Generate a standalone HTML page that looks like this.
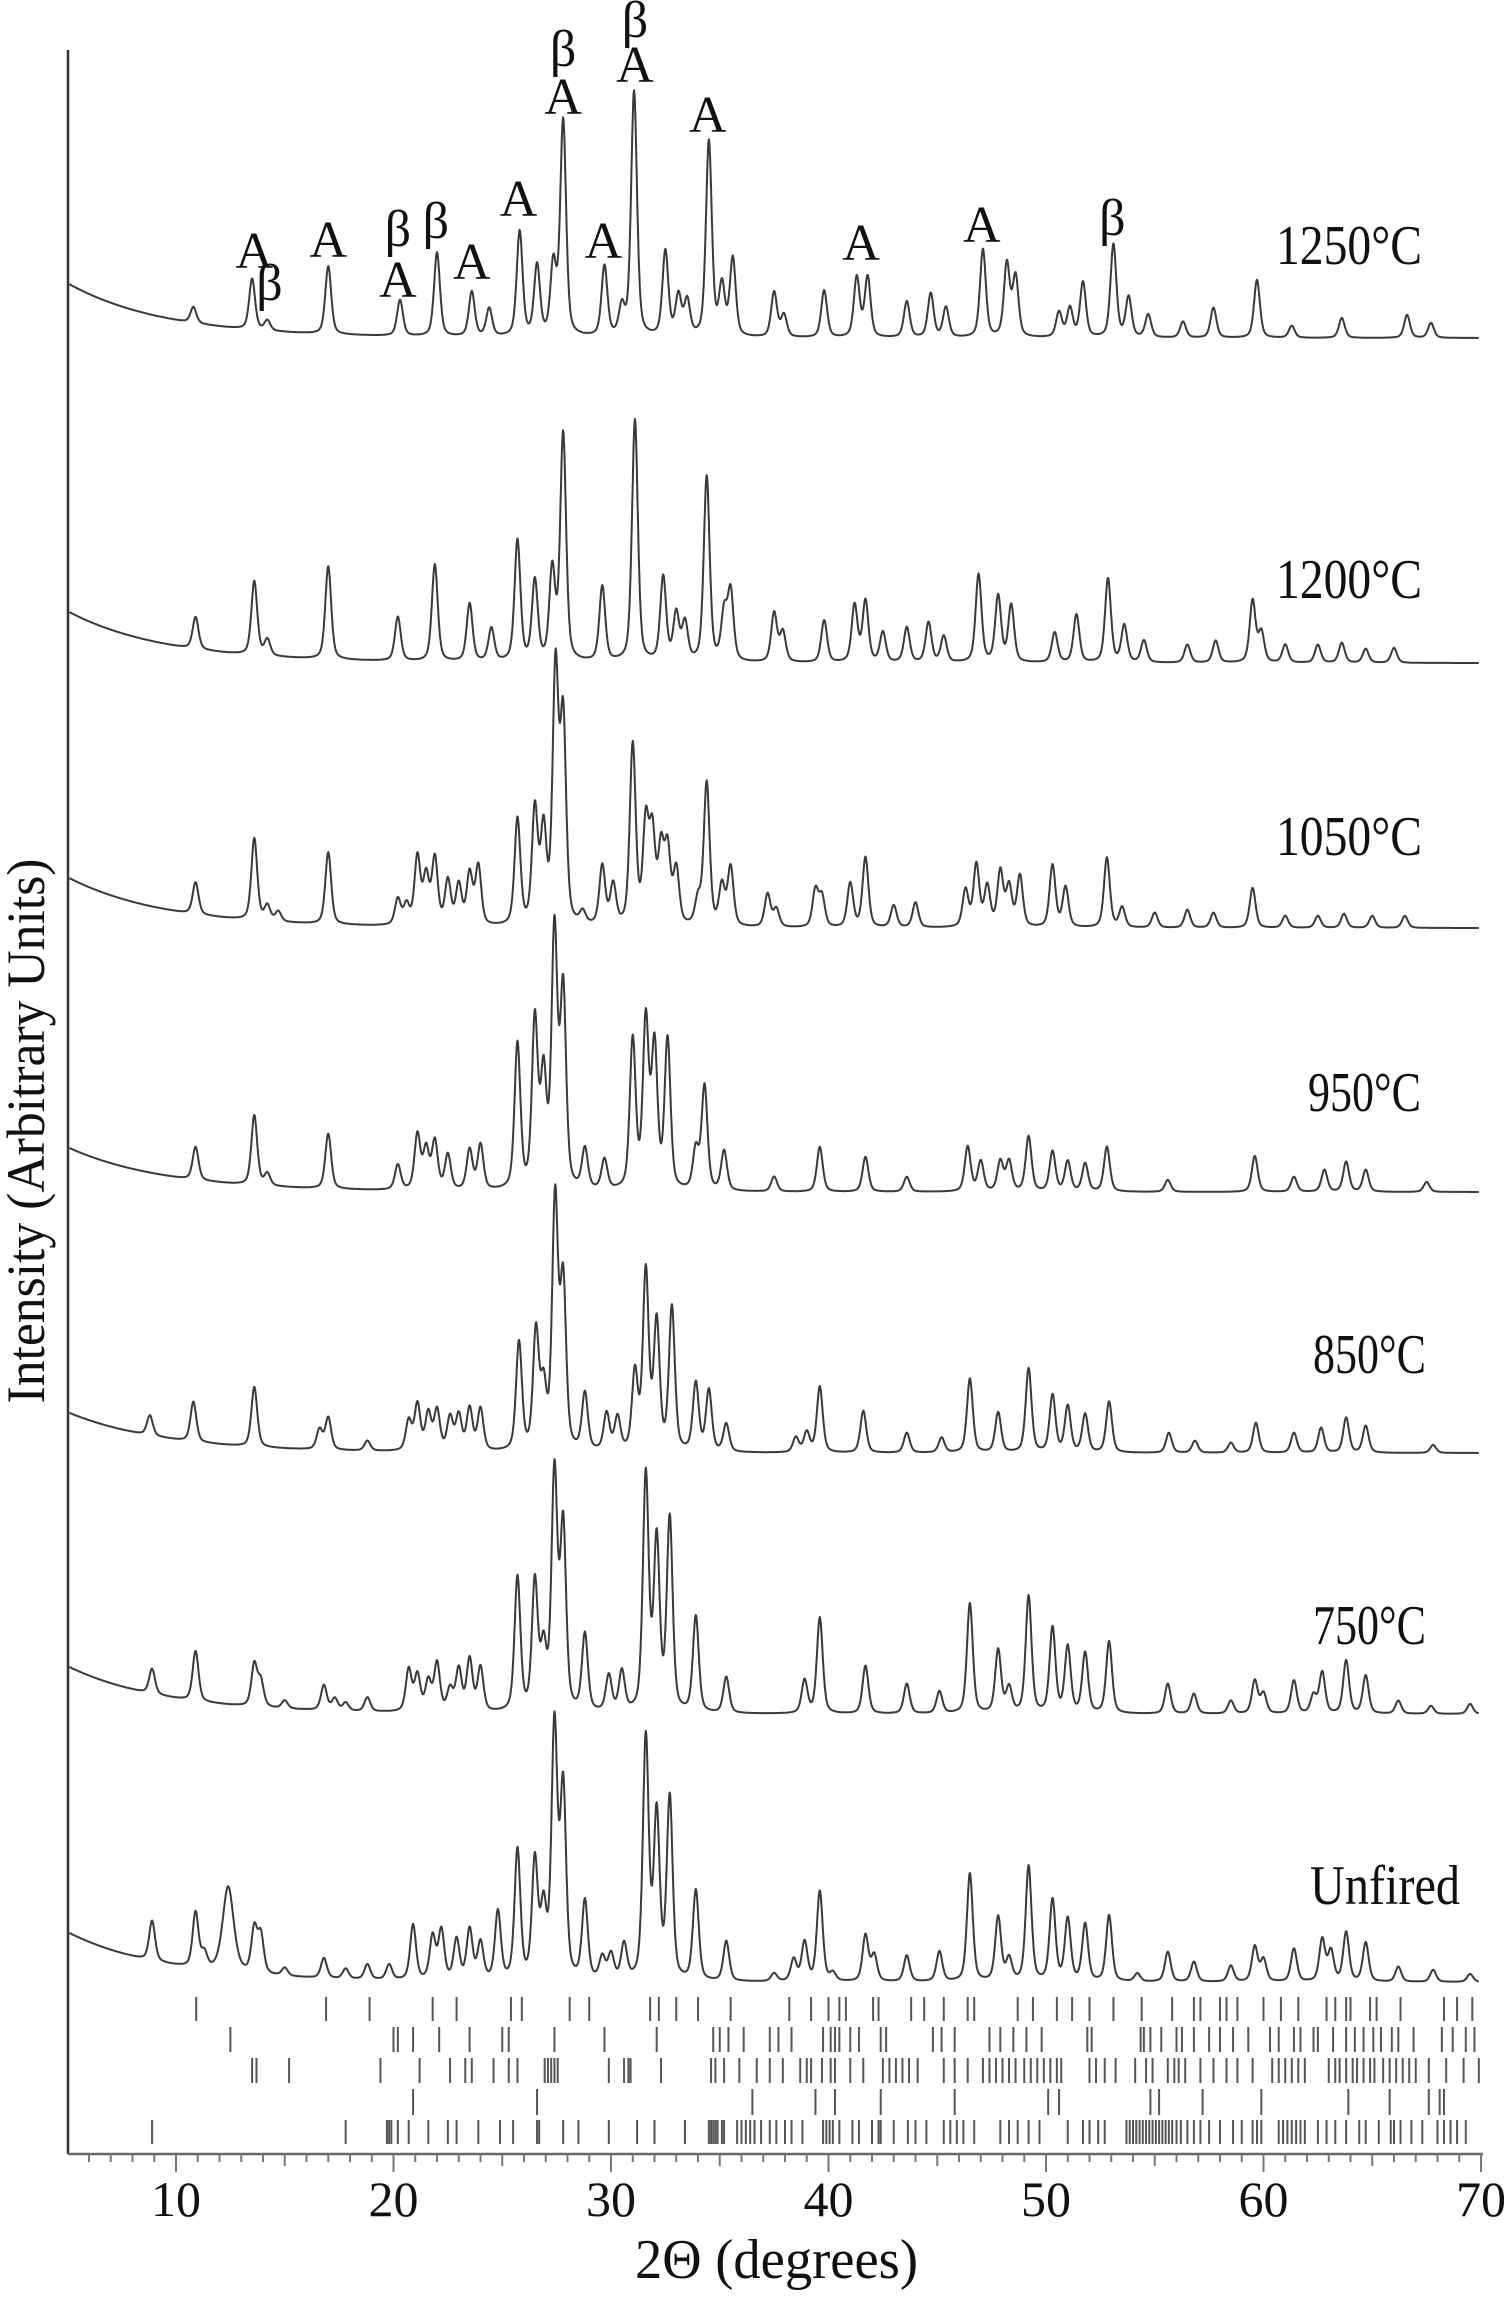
<!DOCTYPE html>
<html><head><meta charset="utf-8"><title>XRD patterns</title>
<style>
html,body{margin:0;padding:0;background:#fff;}
svg{display:block;}
text{font-family:"Liberation Serif",serif;fill:#111;}
</style></head>
<body>
<svg id="chart" width="1508" height="2298" viewBox="0 0 1508 2298" xmlns="http://www.w3.org/2000/svg">
<g id="axes"></g>
<g id="traces"></g>
<g id="sticks"></g>
<g id="labels"></g>
</svg>
<script>
// ---- x-axis ticks ----
const xTickLabels = [10, 20, 30, 40, 50, 60, 70];
const seriesNames = ["1250°C", "1200°C", "1050°C", "950°C", "850°C", "750°C", "Unfired"];

// ---- peak lists [2theta, intensity] per pattern ----
const peaks1250 = [[10.8,16],[13.5,51],[14.2,10],[17.0,68],[20.3,36],[22.0,84],[23.6,45],[24.4,28],[25.8,105],[26.6,70],[27.35,70],[27.8,215],[29.7,70],[30.5,28],[31.06,245],[32.5,85],[33.1,40],[33.5,35],[34.5,195],[35.1,50],[35.6,78],[37.5,45],[37.95,22],[39.8,47],[41.3,60],[41.8,60],[43.6,36],[44.7,44],[45.4,30],[47.1,88],[48.2,73],[48.6,60],[50.6,25],[51.1,29],[51.7,55],[53.1,93],[53.8,40],[54.7,23],[56.3,16],[57.7,30],[59.7,58],[61.3,12],[63.6,20],[66.6,23],[67.7,15]];
const peaks1200 = [[10.9,32],[13.6,74],[14.2,16],[17.0,93],[20.2,44],[21.9,97],[23.5,58],[24.5,33],[25.7,121],[26.5,80],[27.3,90],[27.8,227],[29.6,75],[31.1,242],[32.4,84],[33.0,47],[33.4,38],[34.4,185],[35.2,47],[35.5,69],[37.5,49],[37.9,30],[39.8,42],[41.2,57],[41.7,61],[42.5,30],[43.6,35],[44.6,40],[45.3,26],[46.9,88],[47.8,66],[48.4,57],[50.4,30],[51.4,48],[52.85,84],[53.6,37],[54.5,22],[56.5,18],[57.8,22],[59.5,62],[59.9,30],[61.0,18],[62.5,18],[63.6,20],[64.7,14],[66.0,15]];
const peaks1050 = [[10.9,32],[13.6,82],[14.2,15],[14.7,10],[17.0,72],[20.2,26],[20.6,20],[21.1,68],[21.5,48],[21.9,66],[22.5,44],[23.0,40],[23.5,51],[23.9,59],[25.7,106],[26.5,114],[26.9,92],[27.45,253],[27.8,202],[28.7,12],[29.6,59],[30.1,40],[31.0,180],[31.6,99],[31.9,88],[32.3,73],[32.6,73],[33.0,55],[34.0,25],[34.4,143],[35.1,40],[35.5,59],[37.2,33],[37.6,18],[39.4,37],[39.7,30],[41.0,44],[41.7,70],[43.0,22],[44.0,25],[46.3,37],[46.8,62],[47.3,40],[47.9,55],[48.3,40],[48.8,51],[50.3,62],[50.9,40],[52.8,70],[53.5,20],[55.0,15],[56.5,18],[57.7,15],[59.5,40],[61.0,12],[62.5,12],[63.7,14],[65.0,12],[66.5,12]];
const peaks950 = [[10.9,33],[13.6,70],[14.2,12],[17.0,55],[20.2,25],[21.1,55],[21.5,40],[21.9,48],[22.5,35],[23.5,40],[24.0,45],[25.7,145],[26.5,167],[26.9,110],[27.4,255],[27.8,196],[28.8,40],[29.7,30],[31.0,149],[31.6,167],[32.0,141],[32.6,149],[33.9,40],[34.3,104],[35.2,40],[37.5,15],[39.6,45],[41.7,35],[43.6,15],[46.4,45],[47.0,30],[47.9,30],[48.3,30],[49.2,55],[50.3,40],[51.0,30],[51.8,28],[52.8,45],[55.6,12],[59.6,36],[61.4,15],[62.8,22],[63.8,30],[64.7,22],[67.5,10]];
const peaks850 = [[8.8,20],[10.8,40],[13.6,60],[16.6,20],[17.0,32],[18.8,10],[20.7,30],[21.1,46],[21.6,37],[22.0,40],[22.6,33],[23.0,35],[23.5,42],[24.0,42],[25.77,108],[26.55,117],[26.9,60],[27.43,249],[27.8,165],[28.8,57],[29.8,37],[30.3,33],[31.1,77],[31.6,178],[32.1,127],[32.8,143],[33.9,68],[34.5,61],[35.3,28],[38.5,15],[39.0,20],[39.6,66],[41.6,42],[43.6,20],[45.2,15],[46.5,74],[47.8,40],[49.2,84],[50.3,57],[51.0,46],[51.8,38],[52.9,51],[55.65,20],[56.85,12],[58.5,10],[59.65,30],[61.4,20],[62.65,25],[63.8,35],[64.7,27],[67.8,8]];
const peaks750 = [[8.9,25],[10.9,50],[13.6,42],[13.9,25],[15.0,8],[16.8,25],[17.3,12],[17.8,8],[18.8,14],[20.7,42],[21.1,36],[21.6,30],[22.0,48],[22.6,22],[23.0,42],[23.5,52],[24.0,44],[25.7,134],[26.5,128],[26.9,60],[27.4,236],[27.8,183],[28.8,77],[29.9,36],[30.5,40],[31.6,236],[32.1,169],[32.7,192],[33.9,96],[35.3,36],[38.9,33],[39.6,96],[41.7,48],[43.6,30],[45.1,22],[46.5,110],[47.8,63],[48.3,25],[49.2,117],[50.3,85],[51.0,66],[51.8,60],[52.9,72],[55.6,30],[56.8,20],[58.5,13],[59.6,33],[60.0,20],[61.4,33],[62.3,18],[62.7,41],[63.8,53],[64.7,38],[66.2,13],[67.7,8],[69.5,10]];
const peaksUnfired = [[8.9,40],[10.9,55],[11.3,15],[12.4,85,0.3],[13.6,44],[13.9,38],[15.0,8],[16.8,20],[17.8,10],[18.8,15],[19.8,15],[20.9,55],[21.8,43],[22.2,49],[22.9,40],[23.5,50],[24.0,37],[24.8,68],[25.7,129],[26.5,117],[26.9,68],[27.4,251],[27.8,189],[28.8,78],[29.6,22],[30.0,25],[30.6,35],[31.6,241],[32.1,163],[32.7,181],[33.9,90],[35.3,40],[37.5,8],[38.4,22],[38.9,39],[39.6,90],[40.2,8],[41.7,46],[42.1,26],[43.6,26],[45.1,30],[46.5,108],[47.8,64],[48.3,22],[49.2,115],[50.3,81],[51.0,62],[51.8,57],[52.9,66],[54.2,8],[55.6,30],[56.8,20],[58.5,16],[59.6,35],[60.0,22],[61.4,33],[62.7,42],[63.1,30],[63.8,49],[64.7,39],[66.2,15],[67.8,12],[69.5,8]];

// ---- reference stick positions (5 rows) ----
const sticksRow1 = [10.93,16.9,18.9,21.8,22.9,25.4,25.9,28.1,29.0,31.8,32.2,33.0,34.0,35.5,38.2,39.2,40.0,40.5,40.8,42.05,42.3,43.8,44.4,45.3,46.4,46.7,48.7,49.4,50.5,51.2,52.0,53.1,54.4,55.8,56.8,57.1,58.0,58.3,58.8,60.0,60.8,61.6,62.9,63.3,63.8,64.0,64.9,65.2,66.3,68.3,68.9,69.6];
const sticksRow2 = [12.5,20.0,20.2,20.9,22.1,23.5,25.0,25.3,27.4,29.7,32.1,34.7,35.0,35.4,36.1,37.3,37.7,38.3,39.75,40.1,40.3,40.5,41.0,41.4,42.4,42.65,44.8,45.2,45.8,47.4,47.9,48.5,49.1,49.8,51.9,52.1,54.35,54.5,54.8,55.3,56.0,56.25,56.8,57.5,58.0,58.6,59.3,60.3,60.7,61.4,61.7,62.3,62.5,63.2,63.8,64.2,64.6,65.05,65.4,65.9,66.2,66.9,68.2,68.7,69.3,69.7];
const sticksRow3 = [13.5,13.7,15.2,19.4,21.2,22.6,23.3,23.6,24.6,25.3,25.7,26.95,27.1,27.25,27.4,27.55,29.9,30.6,30.8,30.9,32.3,34.6,34.8,35.2,35.9,36.7,37.3,37.9,38.7,39.0,39.2,39.7,40.1,40.3,41.0,41.6,42.5,42.8,43.1,43.4,43.7,44.1,45.3,45.8,46.4,47.1,47.4,47.7,48.0,48.3,48.6,49.0,49.3,49.6,49.9,50.2,50.5,50.7,52.0,52.3,52.7,53.2,54.1,54.6,54.9,55.6,55.9,56.1,56.4,57.1,57.7,58.3,58.8,59.5,60.4,60.7,61.0,61.3,61.6,61.9,63.0,63.3,63.5,63.8,64.1,64.3,64.6,64.9,65.1,65.5,65.8,66.1,66.4,66.7,67.0,67.6,68.4,69.2,69.9];
const sticksRow4 = [20.9,26.6,36.5,39.4,40.3,42.4,45.8,50.1,50.6,54.8,55.2,57.2,59.9,63.9,65.8,67.6,68.1,68.3];
const sticksRow5 = [8.9,17.8,19.7,19.8,19.9,20.2,20.7,21.6,22.5,22.9,23.9,24.9,25.5,26.6,26.7,27.8,28.5,29.9,31.2,32.0,33.4,34.5,34.6,34.7,34.8,34.9,35.1,35.2,35.8,36.0,36.2,36.4,36.6,36.9,37.3,37.6,38.0,38.3,38.8,39.75,39.9,40.05,40.2,40.5,41.1,41.4,42.0,42.3,42.4,43.0,43.65,44.0,44.5,45.3,45.6,45.9,46.2,46.7,47.9,48.3,48.7,49.2,49.7,51.0,51.7,52.0,52.4,52.7,53.7,53.85,54.0,54.15,54.3,54.45,54.6,54.75,54.9,55.05,55.2,55.35,55.5,55.65,55.8,56.0,56.2,56.5,56.8,57.1,57.5,58.0,58.6,59.0,59.5,59.7,59.9,60.7,60.9,61.1,61.3,61.5,61.7,61.9,62.5,62.9,63.3,63.8,64.4,64.7,65.3,65.85,66.0,66.3,66.8,67.3,68.0,68.3,68.6,68.9,69.3];

// ---- annotation letters [text, 2theta, pixel baseline] ----
const annotations = [["A",13.6,268],["β",14.3,300],["A",17.0,257],["β",20.2,246],["A",20.2,297],["β",21.95,238],["A",23.6,279],["A",25.75,216],["β",27.8,66],["A",27.8,114],["A",29.65,258],["β",31.1,37],["A",31.1,82],["A",34.45,132],["A",41.5,260],["A",47.05,242],["β",53.05,235]];

const NS = "http://www.w3.org/2000/svg";
const X0 = 176, PX = 21.75;
function xs(t){ return X0 + (t - 10) * PX; }
function mk(tag, attrs, parent){ const e = document.createElementNS(NS, tag); for (const k in attrs) e.setAttribute(k, attrs[k]); parent.appendChild(e); return e; }

const axes = document.getElementById("axes");
const AX_Y = 2154, AX_X = 68;
let e = mk("line", {x1:AX_X, y1:50, x2:AX_X, y2:AX_Y, stroke:"#333", "stroke-width":2.5}, axes);


e = mk("line", {x1:AX_X, y1:AX_Y, x2:xs(70)+2, y2:AX_Y, stroke:"#666", "stroke-width":2.5}, axes);


for (let t = 6; t <= 70; t++) {
  const len = (t % 10 === 0) ? 18 : (t % 5 === 0 ? 12 : 8);
  const tk = mk("line", {x1:xs(t), y1:AX_Y, x2:xs(t), y2:AX_Y+len, stroke:"#777", "stroke-width":2}, axes);
  
  
}
xTickLabels.forEach(v => {
  const tl = mk("text", {x:xs(v), y:2216, "font-size":50, "text-anchor":"middle"}, axes);
  tl.textContent = v;
  
  
});
e = mk("text", {x:635, y:2278, "font-size":56, textLength:283, lengthAdjust:"spacingAndGlyphs"}, axes);
e.textContent = "2Θ (degrees)";


e = mk("text", {x:0, y:0, "font-size":54, "text-anchor":"middle", textLength:545, lengthAdjust:"spacingAndGlyphs", transform:"translate(44,1131) rotate(-90)"}, axes);
e.textContent = "Intensity (Arbitrary Units)";



// ---- traces ----
const traceDefs = [
  {peaks:peaks1250, base:338, rise:55, name:"trace-1250c"},
  {peaks:peaks1200, base:663, rise:52, name:"trace-1200c"},
  {peaks:peaks1050, base:928, rise:51, name:"trace-1050c"},
  {peaks:peaks950, base:1192, rise:45, name:"trace-950c"},
  {peaks:peaks850, base:1453, rise:41, name:"trace-850c"},
  {peaks:peaks750, base:1714, rise:48, name:"trace-750c"},
  {peaks:peaksUnfired, base:1982, rise:50, name:"trace-unfired"}
];
const tg = document.getElementById("traces");
traceDefs.forEach(td => {
  let d = "";
  for (let i = 0; i <= 3240; i++) {
    const t = 5.1 + i * 0.02;
    let I = td.rise * Math.exp(-(t - 5) / 4.5);
    td.peaks.forEach(p => {
      const w = p[2] || 0.16;
      const q = (t - p[0]) / w;
      if (Math.abs(q) < 40) I += p[1] * (0.55 * Math.exp(-0.693 * q * q) + 0.45 / (1 + q * q));
    });
    d += (i ? "L" : "M") + xs(t).toFixed(1) + " " + (td.base - I).toFixed(1);
  }
  const p = mk("path", {d:d, fill:"none", stroke:"#3a3a3a", "stroke-width":2, "stroke-linejoin":"round"}, tg);
  
  
});

// ---- sticks ----
const sg = document.getElementById("sticks");
const rows = [[sticksRow1,1997,2021],[sticksRow2,2027,2052],[sticksRow3,2058,2083],[sticksRow4,2089,2115],[sticksRow5,2120,2144]];
rows.forEach(r => {
  r[0].forEach(t => {
    const s = mk("line", {x1:xs(t), y1:r[1], x2:xs(t), y2:r[2], stroke:"#555", "stroke-width":2}, sg);
    
    
  });
});

// ---- labels ----
const lg = document.getElementById("labels");
annotations.forEach(a => {
  const t = mk("text", {x:xs(a[1]), y:a[2], "font-size":52, "text-anchor":"middle"}, lg);
  t.textContent = a[0];
  
  
});
const seriesLabelPos = [[1276,264,146],[1276,598,146],[1276,855,146],[1308,1111,113],[1313,1373,113],[1313,1644,113],[1310,1904,150]];
seriesNames.forEach((n, i) => {
  const sp = seriesLabelPos[i];
  const t = mk("text", {x:sp[0], y:sp[1], "font-size":56, textLength:sp[2], lengthAdjust:"spacingAndGlyphs"}, lg);
  t.textContent = n;
  
  
});
</script>
</body></html>
